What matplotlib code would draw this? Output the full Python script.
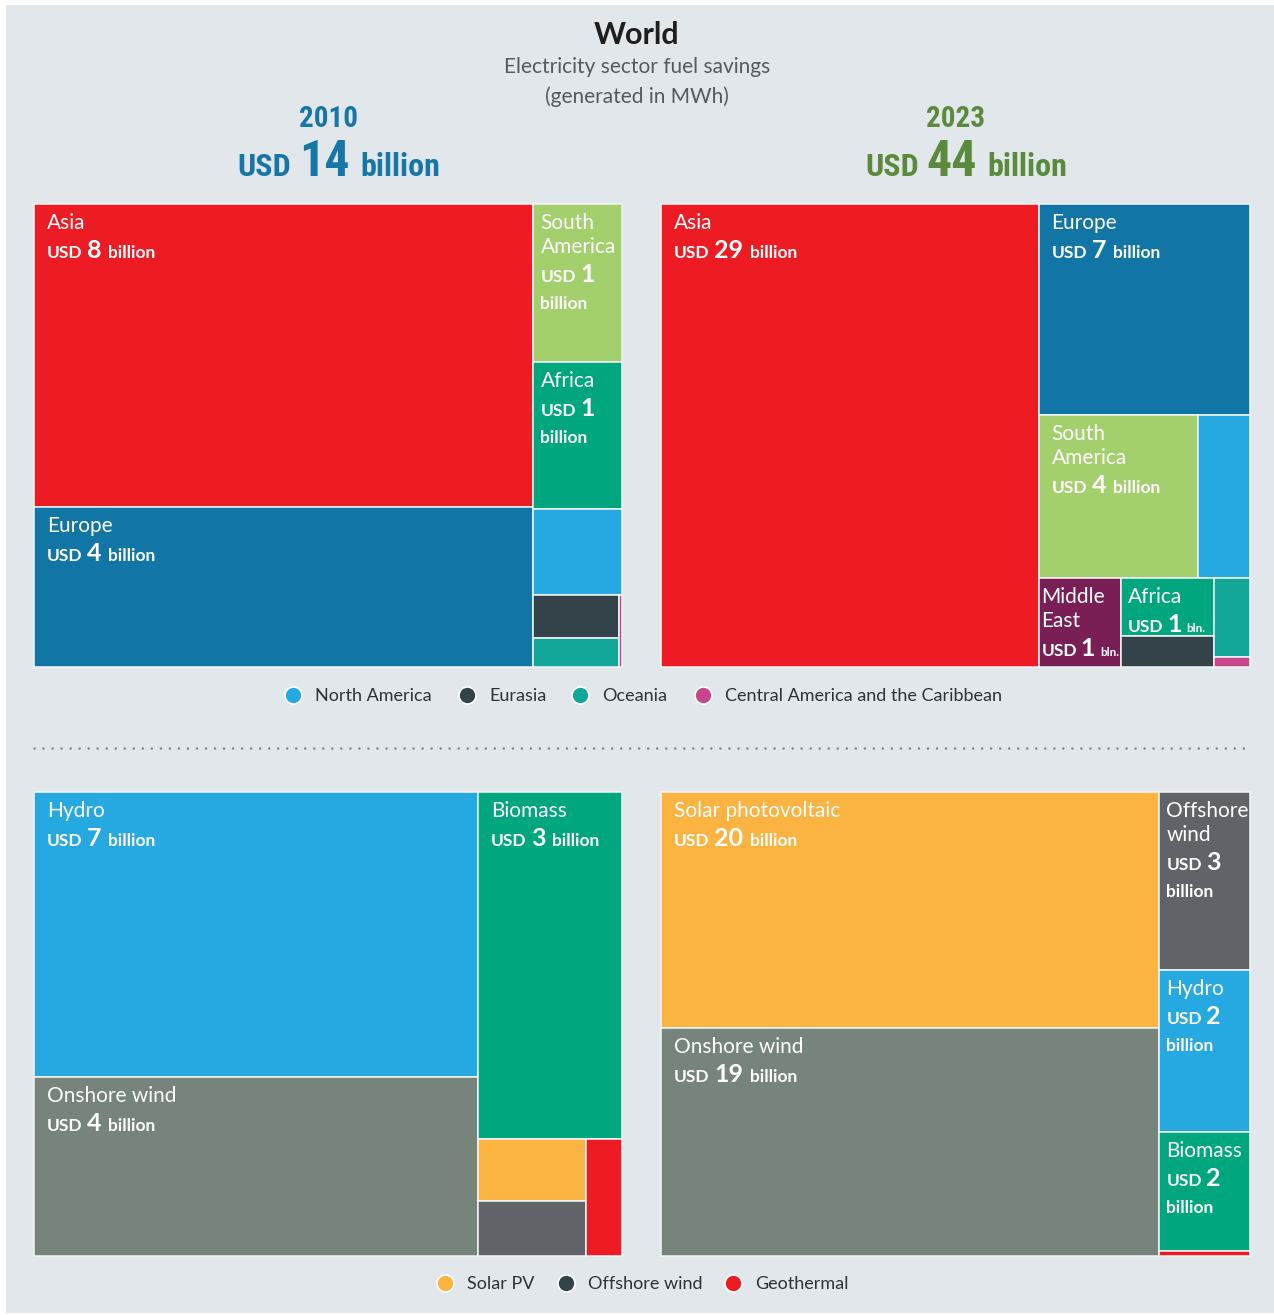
import matplotlib
matplotlib.use("Agg")
import matplotlib.pyplot as plt
from matplotlib.patches import Rectangle
from matplotlib import font_manager

# ---------------- data ----------------
regions_2010 = ["Asia", "Europe", "South America", "Africa", "North America",
                "Eurasia", "Oceania", "Central America and the Caribbean"]
values_2010 = [7.8, 4.1, 0.72, 0.67, 0.39, 0.19, 0.13, 0.01]

regions_2023 = ["Asia", "Europe", "South America", "North America", "Middle East",
                "Africa", "Eurasia", "Oceania", "Central America and the Caribbean"]
values_2023 = [28.6, 7.3, 4.25, 1.4, 1.2, 0.88, 0.47, 0.46, 0.06]

techs_2010 = ["Hydro", "Onshore wind", "Biomass", "Solar PV", "Offshore wind", "Geothermal"]
tvalues_2010 = [6.6, 4.13, 2.6, 0.35, 0.31, 0.22]

techs_2023 = ["Solar PV", "Onshore wind", "Offshore wind", "Hydro", "Biomass", "Geothermal"]
tvalues_2023 = [19.6, 19.0, 2.7, 2.45, 1.8, 0.08]

# label text: (name lines, rounded value, layout style)
labels_regions_2010 = {"Asia": ("Asia", "8", "inline"), "Europe": ("Europe", "4", "inline"),
                       "South America": ("South\nAmerica", "1", "wrap"),
                       "Africa": ("Africa", "1", "wrap")}
labels_regions_2023 = {"Asia": ("Asia", "29", "inline"), "Europe": ("Europe", "7", "inline"),
                       "South America": ("South\nAmerica", "4", "inline"),
                       "Middle East": ("Middle\nEast", "1", "bln"),
                       "Africa": ("Africa", "1", "bln")}
labels_techs_2010 = {"Hydro": ("Hydro", "7", "inline"),
                     "Onshore wind": ("Onshore wind", "4", "inline"),
                     "Biomass": ("Biomass", "3", "inline")}
labels_techs_2023 = {"Solar PV": ("Solar photovoltaic", "20", "inline"),
                     "Onshore wind": ("Onshore wind", "19", "inline"),
                     "Offshore wind": ("Offshore\nwind", "3", "wrap"),
                     "Hydro": ("Hydro", "2", "wrap"),
                     "Biomass": ("Biomass", "2", "wrap")}

total_2010 = "14"
total_2023 = "44"

legend_regions = ["North America", "Eurasia", "Oceania", "Central America and the Caribbean"]
legend_techs = ["Solar PV", "Offshore wind", "Geothermal"]

# ---------------- styles ----------------
region_colors = {"Asia": "#ED1C24", "Europe": "#1175A6", "South America": "#A3CF6D",
                 "Africa": "#00A67E", "North America": "#26A9E0", "Eurasia": "#344349",
                 "Oceania": "#13A79A", "Central America and the Caribbean": "#C7478A",
                 "Middle East": "#7A1F55"}
tech_colors = {"Hydro": "#26A9E0", "Onshore wind": "#77847B", "Biomass": "#00A67E",
               "Solar PV": "#FBB342", "Offshore wind": "#606368", "Geothermal": "#ED1C24"}
tech_legend_colors = {"Solar PV": "#FBB342", "Offshore wind": "#344349", "Geothermal": "#ED1C24"}

BG = "#E2E7EB"
BLUE = "#1776A8"
GREEN = "#5B8A3C"
LIGHT = ["Lato", "DejaVu Sans"]

# condensed bold font for the headline totals, if one is installed
_names = {f.name for f in font_manager.fontManager.ttflist}
NARROW = None
for cand in ["Liberation Sans Narrow", "Roboto Condensed", "DejaVu Sans Condensed",
             "Open Sans Condensed"]:
    if cand in _names:
        NARROW = [cand, "DejaVu Sans"]
        break
NARROW_STRETCH = "normal"
if NARROW is None:
    NARROW = ["DejaVu Sans"]
    NARROW_STRETCH = "condensed"

PHI = (1 + 5 ** 0.5) / 2


def squarify(values, x0, y0, x1, y1, ratio=PHI):
    """d3-style squarified treemap (ratio = golden ratio)."""
    rects = []
    value = float(sum(values))
    n = len(values)
    i0 = 0
    while i0 < n:
        dx, dy = x1 - x0, y1 - y0
        i1 = i0
        s = values[i1]
        i1 += 1
        mn = mx = s
        alpha = max(dy / dx, dx / dy) / (value * ratio)
        beta = s * s * alpha
        min_ratio = max(mx / beta, beta / mn)
        while i1 < n:
            v = values[i1]
            s2 = s + v
            mn2, mx2 = min(mn, v), max(mx, v)
            beta = s2 * s2 * alpha
            new_ratio = max(mx2 / beta, beta / mn2)
            if new_ratio > min_ratio:
                break
            s, mn, mx, min_ratio = s2, mn2, mx2, new_ratio
            i1 += 1
        row = values[i0:i1]
        if dx < dy:
            h = dy * s / value
            cx = x0
            for v in row:
                w = dx * v / s
                rects.append((cx, y0, w, h))
                cx += w
            y0 += h
        else:
            w = dx * s / value
            cy = y0
            for v in row:
                h = dy * v / s
                rects.append((x0, cy, w, h))
                cy += h
            x0 += w
        value -= s
        i0 = i1
    return rects


fig = plt.figure(figsize=(12.74, 13.15), dpi=100, facecolor="white")
ax = fig.add_axes([0, 0, 1, 1])
ax.set_xlim(0, 1274)
ax.set_ylim(1315, 0)
ax.axis("off")
renderer = fig.canvas.get_renderer()

ax.add_patch(Rectangle((6, 5), 1268, 1308, facecolor=BG, edgecolor="none", zorder=0))

PX = 100 / 72.0


def rich(x, y, parts, ha="left", stretch="normal", gapf=0.26):
    """parts: list of (text, size, weight, family, color); placed on one baseline."""
    objs, widths = [], []
    for (s, size, weight, fam, col) in parts:
        t = ax.text(0, y, s, fontsize=size, fontweight=weight, family=fam, color=col,
                    fontstretch=stretch, va="baseline", ha="left", zorder=5)
        objs.append(t)
        widths.append(t.get_window_extent(renderer).width)
    gaps = [parts[i][1] * PX * gapf for i in range(len(parts) - 1)] + [0]
    total = sum(widths) + sum(gaps)
    cx = x if ha == "left" else x - total / 2
    for t, w, g in zip(objs, widths, gaps):
        t.set_x(cx)
        cx += w + g


def label_cell(rect, spec):
    x, y, w, h = rect
    name, num, style = spec
    pad = 13 if w > 120 else (7 if w > 86 else 3)
    tx = x + pad
    base = y + 25
    lines = name.split("\n")
    for i, ln in enumerate(lines):
        ax.text(tx, base + 24 * i, ln, fontsize=15, fontweight="normal", family=LIGHT,
                color="white", va="baseline", ha="left", zorder=5)
    vb = base + 24 * (len(lines) - 1) + 29
    if style == "inline":
        rich(tx, vb, [("USD", 12.5, "bold", LIGHT, "white"), (num, 18, "bold", LIGHT, "white"),
                      ("billion", 12.5, "bold", LIGHT, "white")])
    elif style == "wrap":
        rich(tx, vb, [("USD", 12.5, "bold", LIGHT, "white"), (num, 18, "bold", LIGHT, "white")])
        ax.text(tx, vb + 27, "billion", fontsize=12.5, fontweight="bold", family=LIGHT,
                color="white", va="baseline", ha="left", zorder=5)
    else:
        rich(tx, vb, [("USD", 12.5, "bold", LIGHT, "white"), (num, 18, "bold", LIGHT, "white"),
                      ("bln.", 8.5, "bold", LIGHT, "white")], gapf=0.2)


def draw_panel(box, names, vals, colors, labels):
    x0, y0, x1, y1 = box
    rects = squarify(vals, x0, y0, x1, y1)
    for nm, r in zip(names, rects):
        ax.add_patch(Rectangle((r[0], r[1]), r[2], r[3], facecolor=colors[nm],
                               edgecolor="#F4F6F8", linewidth=1.1, zorder=2))
        if nm in labels:
            label_cell(r, labels[nm])


TL = (34, 204, 622, 667)
TR = (661, 204, 1250, 667)
BL = (34, 792, 622, 1256)
BR = (661, 792, 1250, 1256)

draw_panel(TL, regions_2010, values_2010, region_colors, labels_regions_2010)
draw_panel(TR, regions_2023, values_2023, region_colors, labels_regions_2023)
draw_panel(BL, techs_2010, tvalues_2010, tech_colors, labels_techs_2010)
draw_panel(BR, techs_2023, tvalues_2023, tech_colors, labels_techs_2023)

# titles
ax.text(637, 44, "World", fontsize=22, fontweight="bold", family=LIGHT, color="#1E1E1E",
        ha="center", va="baseline")
ax.text(637, 73, "Electricity sector fuel savings", fontsize=15, family=LIGHT,
        color="#555A5F", ha="center", va="baseline")
ax.text(637, 103, "(generated in MWh)", fontsize=15, family=LIGHT,
        color="#555A5F", ha="center", va="baseline")

for box, year, tot, col in [(TL, "2010", total_2010, BLUE), (TR, "2023", total_2023, GREEN)]:
    cx = (box[0] + box[2]) / 2
    ax.text(cx, 127, year, fontsize=21, fontweight="bold", family=NARROW, color=col,
            fontstretch=NARROW_STRETCH, ha="center", va="baseline")
    rich(cx + 11, 176, [("USD", 23, "bold", NARROW, col), (tot, 36, "bold", NARROW, col),
                        ("billion", 23, "bold", NARROW, col)], ha="center",
         stretch=NARROW_STRETCH, gapf=0.22)

# legends
def legend(items, colors, y, xs):
    for nm, x in zip(items, xs):
        ax.scatter([x], [y], s=150, color=colors[nm], edgecolor="white", linewidth=1.2, zorder=6)
        ax.text(x + 22, y + 6, nm, fontsize=13, family=LIGHT, color="#2E3236",
                ha="left", va="baseline")

legend(legend_regions, region_colors, 695, [293, 467, 580, 703])
legend(legend_techs, tech_legend_colors, 1283, [445, 566, 733])

# dotted separator
ax.plot([34, 1250], [748, 748], color="#7A7F84", linewidth=1.8,
        linestyle=(0, (0.01, 3.6)), dash_capstyle="round", zorder=1)

fig.savefig("out.png", dpi=100, facecolor="white")
